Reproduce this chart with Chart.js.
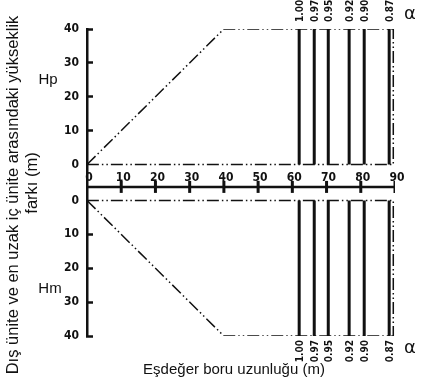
<!DOCTYPE html>
<html lang="tr">
<head>
<meta charset="UTF-8" />
<title>Eşdeğer boru uzunluğu</title>
<script src="https://cdn.jsdelivr.net/npm/chart.js@4"></script>
<style>
  * { margin: 0; padding: 0; box-sizing: border-box; }
  body { background: #fff; }
  .wrap { width: 422px; height: 389px; }
</style>
</head>
<body>
<div class="wrap"><canvas id="chart"></canvas></div>
<script>
// values
const heightTicks = [0, 10, 20, 30, 40];                      // Hp / Hm (m)
const lengthTicks = [0, 10, 20, 30, 40, 50, 60, 70, 80, 90];  // Eşdeğer boru uzunluğu (m)
const envelopeLength = [0, 40, 89.5, 89.5, 0];
const envelopeHeight = [0, 40, 40, 0, 0];
const alphaLength = [62, 66.4, 70.5, 76.6, 81, 88.3];
const alphaLabels = ["1.00", "0.97", "0.95", "0.92", "0.90", "0.87"];

// the length axis sits in a band between the two panels
const GAP = 5.3;
const AXIS_Y = -1.3;
const LABEL_Y = 3.6;
const HMAX = Math.max(...heightTicks);
const upper = h => h + GAP;
const lower = h => -(h + GAP);

const INK = "#111";
const DASH = [12, 3, 1.5, 3, 1.5, 3];
const numFont = { family: "'DejaVu Sans Condensed', 'DejaVu Sans', sans-serif", size: 12, weight: "bold" };

const envelope = f => envelopeLength.map((x, i) => ({ x, y: f(envelopeHeight[i]) }));
const alphaLines = f => alphaLength.flatMap(x => [{ x, y: f(0) }, { x, y: f(HMAX) }, { x, y: null }]);

const lineStyle = { borderColor: INK, pointRadius: 0, fill: false, tension: 0, spanGaps: false };

const annotate = {
  id: "annotate",
  afterDraw(chart) {
    const { ctx, scales: { x, y } } = chart;
    ctx.save();
    ctx.fillStyle = INK;
    ctx.textBaseline = "middle";

    // axis titles
    ctx.font = "15px 'Liberation Sans', Arial, sans-serif";
    ctx.textAlign = "center";
    ctx.fillText("Eşdeğer boru uzunluğu (m)", 234, 370);
    ctx.font = "16.5px 'Liberation Sans', Arial, sans-serif";
    ctx.save();
    ctx.translate(13, 195);
    ctx.rotate(-Math.PI / 2);
    ctx.fillText("Dış ünite ve en uzak iç ünite arasındaki yükseklik", 0, 0);
    ctx.restore();
    ctx.save();
    ctx.translate(32, 183);
    ctx.rotate(-Math.PI / 2);
    ctx.fillText("farkı (m)", 0, 0);
    ctx.restore();

    // panel names
    ctx.font = "15px 'Liberation Sans', Arial, sans-serif";
    ctx.fillText("Hp", 48, y.getPixelForValue(upper(25)));
    ctx.fillText("Hm", 50, y.getPixelForValue(lower(26)));

    // alpha labels
    ctx.font = "bold 10px 'DejaVu Sans Condensed', 'DejaVu Sans', sans-serif";
    const yTop = y.getPixelForValue(upper(HMAX));
    const yBot = y.getPixelForValue(lower(HMAX));
    alphaLength.forEach((v, i) => {
      const px = x.getPixelForValue(v);
      ctx.save();
      ctx.translate(px + 1, yTop - 7);
      ctx.rotate(-Math.PI / 2);
      ctx.textAlign = "left";
      ctx.fillText(alphaLabels[i], 0, 0);
      ctx.restore();
      ctx.save();
      ctx.translate(px + 1, yBot + 4);
      ctx.rotate(-Math.PI / 2);
      ctx.textAlign = "right";
      ctx.fillText(alphaLabels[i], 0, 0);
      ctx.restore();
    });

    ctx.font = "18px 'DejaVu Sans', sans-serif";
    ctx.textAlign = "center";
    ctx.fillText("α", 410, 14);
    ctx.fillText("α", 410, 348);
    ctx.restore();
  }
};

new Chart(document.getElementById("chart"), {
  type: "line",
  data: {
    datasets: [
      { ...lineStyle, data: envelope(upper), borderWidth: 1.5, borderDash: DASH },
      { ...lineStyle, data: envelope(lower), borderWidth: 1.5, borderDash: DASH },
      { ...lineStyle, data: alphaLines(upper), borderWidth: 3 },
      { ...lineStyle, data: alphaLines(lower), borderWidth: 3 },
      { ...lineStyle, data: [{ x: 0, y: AXIS_Y }, { x: 90, y: AXIS_Y }], borderWidth: 2.5 },
      {
        ...lineStyle,
        showLine: false,
        data: lengthTicks.slice(1).map(x => ({ x, y: AXIS_Y })),
        pointStyle: "line",
        pointRotation: 90,
        pointRadius: 6,
        pointBorderWidth: 3,
        pointBorderColor: INK
      }
    ]
  },
  options: {
    responsive: true,
    maintainAspectRatio: false,
    animation: false,
    layout: { padding: { left: 0, top: 29, right: 27, bottom: 53 } },
    plugins: { legend: { display: false }, tooltip: { enabled: false } },
    scales: {
      x: {
        type: "linear",
        min: 0,
        max: 90,
        position: { y: LABEL_Y },
        afterBuildTicks: s => { s.ticks = lengthTicks.map(v => ({ value: v })); },
        grid: { display: false, drawTicks: false },
        border: { display: false },
        ticks: { padding: 0, maxRotation: 0, autoSkip: false, labelOffset: 2, color: INK, font: numFont }
      },
      y: {
        type: "linear",
        min: lower(HMAX),
        max: upper(HMAX),
        afterBuildTicks: s => {
          s.ticks = [...heightTicks.map(h => ({ value: upper(h) })), ...heightTicks.map(h => ({ value: lower(h) }))];
        },
        afterFit: s => { s.width = 87; },
        grid: {
          drawOnChartArea: false,
          tickLength: -6,
          tickWidth: 2.5,
          tickColor: c => (c.tick && Math.round(Math.abs(c.tick.value) - GAP) === 0 ? "transparent" : INK)
        },
        border: { color: INK, width: 2.5 },
        ticks: {
          padding: 14,
          color: INK,
          font: numFont,
          callback: v => String(Math.round(Math.abs(v) - GAP))
        }
      }
    }
  },
  plugins: [annotate]
});
</script>
</body>
</html>
